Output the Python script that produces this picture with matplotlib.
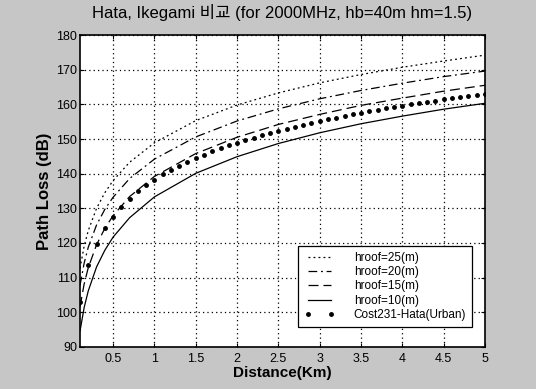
import numpy as np
import matplotlib
matplotlib.use("Agg")
import matplotlib.pyplot as plt

plt.rcParams['font.family'] = ['Liberation Sans', 'Noto Sans CJK KR', 'DejaVu Sans']

# distance points (km) for the hroof curves
dist = [0.1, 0.15, 0.2, 0.3, 0.4, 0.5, 0.7, 1, 1.5, 2, 2.5, 3, 3.5, 4, 4.5, 5]

# path loss (dB) per rooftop height
loss_h25 = [112.7, 119.1, 123.6, 130.0, 134.5, 138.0, 143.3, 148.9,
            155.3, 159.8, 163.3, 166.2, 168.6, 170.7, 172.5, 174.2]
loss_h20 = [107.8, 114.2, 118.8, 125.2, 129.7, 133.2, 138.6, 144.2,
            150.6, 155.2, 158.7, 161.6, 164.0, 166.1, 168.0, 169.6]
loss_h15 = [101.6, 108.2, 112.9, 119.5, 124.2, 127.9, 133.4, 139.2,
            145.8, 150.5, 154.2, 157.1, 159.7, 161.8, 163.8, 165.5]
loss_h10 = [94.6, 101.4, 106.2, 113.1, 117.9, 121.7, 127.3, 133.3,
            140.1, 144.9, 148.7, 151.8, 154.4, 156.6, 158.6, 160.3]

# Cost231-Hata urban, sampled every 0.1 km
dist_cost = [round(0.1 * i, 1) for i in range(1, 51)]
loss_cost = [102.9, 113.6, 119.8, 124.2, 127.6, 130.4, 132.8, 134.9, 136.7, 138.3,
             139.8, 141.1, 142.3, 143.5, 144.5, 145.5, 146.5, 147.3, 148.2, 148.9,
             149.7, 150.4, 151.1, 151.8, 152.4, 153.0, 153.6, 154.1, 154.7, 155.2,
             155.7, 156.2, 156.7, 157.1, 157.6, 158.0, 158.4, 158.8, 159.2, 159.6,
             160.0, 160.4, 160.7, 161.1, 161.4, 161.8, 162.1, 162.4, 162.7, 163.0]

xticks = [0.5, 1, 1.5, 2, 2.5, 3, 3.5, 4, 4.5, 5]
xtick_labels = ['0.5', '1', '1.5', '2', '2.5', '3', '3.5', '4', '4.5', '5']
yticks = [90, 100, 110, 120, 130, 140, 150, 160, 170, 180]

fig = plt.figure(figsize=(5.36, 3.89), dpi=100, facecolor='#c6c6c6')
ax = fig.add_axes([0.1493, 0.108, 0.7556, 0.802])
ax.set_facecolor('white')

ax.plot(dist, loss_h25, color='black', lw=0.9, linestyle=(0, (1.5, 2.5)), label='hroof=25(m)')
ax.plot(dist, loss_h20, color='black', lw=0.9, linestyle=(0, (7, 3, 1.5, 3)), label='hroof=20(m)')
ax.plot(dist, loss_h15, color='black', lw=0.9, linestyle=(0, (8, 4)), label='hroof=15(m)')
ax.plot(dist, loss_h10, color='black', lw=0.9, linestyle='-', label='hroof=10(m)')
ax.plot(dist_cost, loss_cost, color='black', linestyle='none', marker='o', markersize=2.5,
        label='Cost231-Hata(Urban)')

ax.set_xlim(0.1, 5)
ax.set_ylim(90, 180)
ax.set_xticks(xticks)
ax.set_xticklabels(xtick_labels)
ax.set_yticks(yticks)
ax.tick_params(direction='in', length=3, width=0.8, top=True, right=True,
               labelsize=9, colors='black')
ax.tick_params(axis='y', pad=2)
ax.tick_params(axis='x', pad=4)
ax.grid(True, color='black', linestyle=(0, (1, 2.5)), linewidth=0.9)
for sp in ax.spines.values():
    sp.set_linewidth(1.2)

ax.set_title('Hata, Ikegami 비교 (for 2000MHz, hb=40m hm=1.5)', fontsize=12, pad=12)
ax.set_xlabel('Distance(Km)', fontsize=11, fontweight='bold', labelpad=1)
ax.set_ylabel('Path Loss (dB)', fontsize=12, fontweight='bold', labelpad=3)

leg = ax.legend(loc='lower right', bbox_to_anchor=(0.968, 0.064), borderaxespad=0,
                fontsize=8.5, frameon=True, fancybox=False, edgecolor='black',
                handlelength=2.6, handletextpad=1.6, labelspacing=0.2,
                borderpad=0.5, numpoints=2)
leg.get_frame().set_linewidth(0.9)
leg.get_frame().set_alpha(1)

fig.savefig('out.png', dpi=100, facecolor=fig.get_facecolor())
